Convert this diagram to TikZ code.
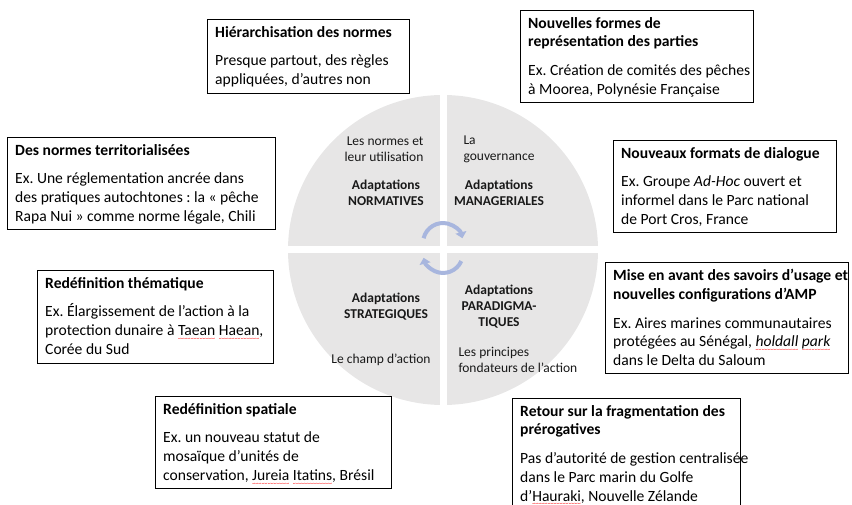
\documentclass[tikz,border=0pt]{standalone}
\usepackage{fontspec}
\setmainfont{Carlito}
\usetikzlibrary{arrows.meta}

\definecolor{quadgray}{RGB}{231,230,230}
\definecolor{cyclearrow}{RGB}{168,182,222}
\frenchspacing

% red spell-check wave under a word
\newcommand\spellwave[1]{\setbox0=\hbox{#1}\rlap{\textcolor{red}{\lower4.5pt\hbox to\wd0{\xleaders\hbox{\fontsize{6}{6}\selectfont\char`\~}\hfill}}}#1}

\begin{document}
\begin{tikzpicture}[
  x=1pt, y=-1pt,
  caseframe/.style={draw, line width=0.8pt, anchor=north west, inner sep=0pt},
  casetext/.style={anchor=north west, align=left, inner xsep=8pt, inner ysep=7pt,
    font=\fontsize{15.6}{18.8}\selectfont},
  wheeltext/.style={font=\fontsize{13.5}{16}\selectfont, text=black!90},
  wheeltitle/.style={font=\fontsize{13.5}{16}\selectfont\bfseries, text=black!90, align=center},
  cyclearc/.style={cyclearrow, line width=4pt, -{Triangle[length=6pt,width=11pt]}}]

  \useasboundingbox (0,0) rectangle (852,505);
  \clip (0,0) rectangle (852,505);

  % the wheel
  \coordinate (hub) at (443,250);
  \fill[quadgray] (hub) circle (155);
  \draw[white, line width=7pt] (443,90) -- (443,410) (283,250) -- (603,250);
  \draw[cyclearc] (423.6,238.2) arc[start angle=194, end angle=346, radius=20];
  \draw[cyclearc] (461.3,261.1) arc[start angle=24, end angle=166, radius=20];

  \node[wheeltext, align=right, anchor=east] (normuse) at (427,149) {Les normes et\\leur utilisation};
  \node[wheeltitle] (normative) at (386,193) {Adaptations\\NORMATIVES};
  \node[wheeltext, align=left, anchor=west] (governance) at (460,149) {La\\gouvernance};
  \node[wheeltitle] (managerial) at (499,193) {Adaptations\\MANAGERIALES};
  \node[wheeltitle] (strategic) at (386,307) {Adaptations\\STRATEGIQUES};
  \node[wheeltext] (field) at (381,360) {Le champ d’action};
  \node[wheeltitle] (paradigm) at (499,307) {Adaptations\\PARADIGMA-\\TIQUES};
  \node[wheeltext, align=left, anchor=west] (principles) at (455,360) {Les principes\\fondateurs de l’action};

  % the cases: frame first, text pinned to its corner
  \node[caseframe, minimum width=202, minimum height=74] (hierarchy) at (207,19) {};
  \node[casetext] (hierarchytext) at (hierarchy.north west)
    {\textbf{Hiérarchisation des normes}\\[10pt]Presque partout, des règles\\appliquées, d’autres non};

  \node[caseframe, minimum width=233, minimum height=92] (representation) at (520,10) {};
  \node[casetext] (representationtext) at (representation.north west)
    {\textbf{Nouvelles formes de}\\\textbf{représentation des parties}\\[10pt]Ex. Création de comités des pêches\\à Moorea, Polynésie Française};

  \node[caseframe, minimum width=268, minimum height=92] (territory) at (7,137) {};
  \node[casetext] (territorytext) at (territory.north west)
    {\textbf{Des normes territorialisées}\\[10pt]Ex. Une réglementation ancrée dans\\des pratiques autochtones : la «~pêche\\Rapa Nui~» comme norme légale, Chili};

  \node[caseframe, minimum width=223, minimum height=92] (dialogue) at (613,140) {};
  \node[casetext] (dialoguetext) at (dialogue.north west)
    {\textbf{Nouveaux formats de dialogue}\\[10pt]Ex. Groupe \textit{Ad-Hoc} ouvert et\\informel dans le Parc national\\de Port Cros, France};

  \node[caseframe, minimum width=236, minimum height=93] (thematic) at (37,270) {};
  \node[casetext] (thematictext) at (thematic.north west)
    {\textbf{Redéfinition thématique}\\[10pt]Ex. Élargissement de l’action à la\\protection dunaire à \spellwave{Taean} \spellwave{Haean},\\Corée du Sud};

  \node[caseframe, minimum width=243, minimum height=111] (knowledge) at (605,262) {};
  \node[casetext] (knowledgetext) at (knowledge.north west)
    {\textbf{Mise en avant des savoirs d’usage et}\\\textbf{nouvelles configurations d’AMP}\\[10pt]Ex. Aires marines communautaires\\protégées au Sénégal, \spellwave{\textit{holdall}} \spellwave{\textit{park}}\\dans le Delta du Saloum};

  \node[caseframe, minimum width=236, minimum height=92] (spatial) at (155,396) {};
  \node[casetext] (spatialtext) at (spatial.north west)
    {\textbf{Redéfinition spatiale}\\[10pt]Ex. un nouveau statut de\\mosaïque d’unités de\\conservation, \spellwave{Jureia} \spellwave{Itatins}, Brésil};

  \node[caseframe, minimum width=228, minimum height=115] (prerogatives) at (512,398) {};
  \node[casetext] (prerogativestext) at (prerogatives.north west)
    {\textbf{Retour sur la fragmentation des}\\\textbf{prérogatives}\\[10pt]Pas d’autorité de gestion centralisée\\dans le Parc marin du Golfe\\d’\spellwave{Hauraki}, Nouvelle Zélande};
\end{tikzpicture}
\end{document}
